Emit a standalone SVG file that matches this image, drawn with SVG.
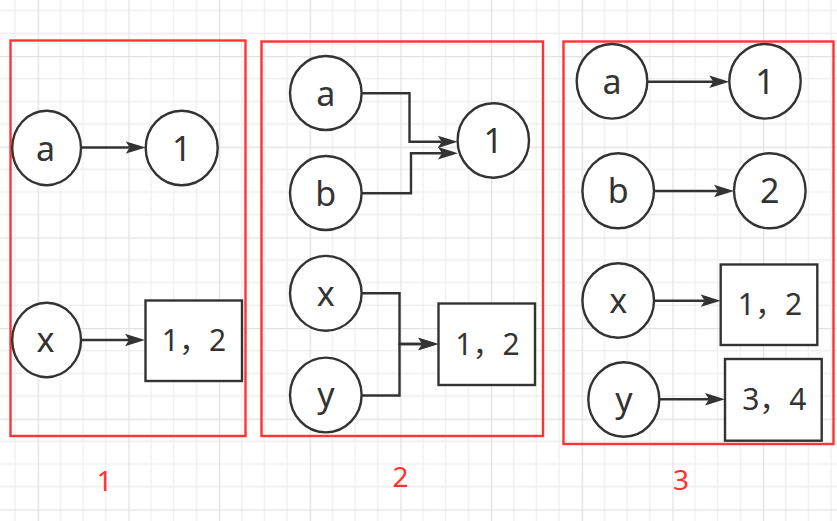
<svg xmlns="http://www.w3.org/2000/svg" width="837" height="521" viewBox="0 0 837 521">
<style>
.node{fill:#ffffff;stroke:#333333;stroke-width:2.4}
.lbl{font-family:"Noto Sans","Noto Sans CJK SC",sans-serif;fill:#333333;text-anchor:middle}
.c{font-size:34px}
.r{font-size:30px}
.edge{fill:none;stroke:#333333;stroke-width:2.4;marker-end:url(#arr)}
.panel{fill:none;stroke:#ff3333;stroke-width:2.4}
.pl{font-family:"Noto Sans",sans-serif;font-size:28px;fill:#ff3333;text-anchor:middle}
</style>
<defs>
<pattern id="grid" patternUnits="userSpaceOnUse" x="37.667" y="56" width="90.667" height="90.667">
<path d="M22.667,0V90.667M45.333,0V90.667M68,0V90.667M0,22.667H90.667M0,45.333H90.667M0,68H90.667" stroke="#efefef" stroke-width="1.3" fill="none"/>
<path d="M0.6,0V90.667M0,0.6H90.667" stroke="#e2e2e2" stroke-width="1.3" fill="none"/>
</pattern>
<marker id="arr" markerUnits="userSpaceOnUse" markerWidth="22" markerHeight="16" refX="4" refY="7" orient="auto">
<path d="M0,0.8L20,7L0,13.2L4,7Z" fill="#333333" stroke="none"/>
</marker>
</defs>
<rect width="837" height="521" fill="#ffffff"/>
<rect width="837" height="521" fill="url(#grid)"/>

<g id="panels">
<rect class="panel" x="10.5" y="40.5" width="235" height="395.5"/>
<rect class="panel" x="261.5" y="41.5" width="281.5" height="394.5"/>
<rect class="panel" x="563.5" y="41.5" width="270" height="402.5"/>
<text class="pl" x="104.5" y="491">1</text>
<text class="pl" x="400.5" y="487">2</text>
<text class="pl" x="681" y="490">3</text>
</g>

<g id="connectors">
<path class="edge" d="M81,147.5H129.7"/>
<path class="edge" d="M81,340H129"/>
<path class="edge" d="M361.7,93.3H409.5V141.8H441.7"/>
<path class="edge" d="M361.7,193.3H411V153.3H442"/>
<path class="edge" d="M361.7,293.3H399.5V344H422.3"/>
<path class="edge" d="M361.7,395.5H399.5V344H422.3"/>
<path class="edge" d="M647.3,81.7H713.3"/>
<path class="edge" d="M654,191H718"/>
<path class="edge" d="M654,300.7H704.7"/>
<path class="edge" d="M659.3,399.3H709"/>
</g>

<g id="p1-a"><ellipse class="node" cx="46.6" cy="148" rx="34.4" ry="37.2"/><text class="lbl c" x="45.5" y="160.5">a</text></g>
<g id="p1-1"><ellipse class="node" cx="181.7" cy="148" rx="36" ry="37.2"/><text class="lbl c" x="181.7" y="160.5">1</text></g>
<g id="p1-x"><ellipse class="node" cx="46.6" cy="340" rx="34.4" ry="37.2"/><text class="lbl c" x="45.5" y="352">x</text></g>
<g id="p1-12"><rect class="node" x="145.5" y="300.5" width="96.5" height="80.5"/><text class="lbl r" x="194" y="351">1，2</text></g>

<g id="p2-a"><ellipse class="node" cx="325.8" cy="93" rx="35.8" ry="37"/><text class="lbl c" x="325.8" y="105.5">a</text></g>
<g id="p2-b"><ellipse class="node" cx="325.8" cy="193" rx="35.8" ry="37"/><text class="lbl c" x="325.8" y="205.5">b</text></g>
<g id="p2-1"><ellipse class="node" cx="493.3" cy="140.5" rx="35.7" ry="37.2"/><text class="lbl c" x="493.3" y="153">1</text></g>
<g id="p2-x"><ellipse class="node" cx="325.8" cy="293.3" rx="35.8" ry="37.4"/><text class="lbl c" x="325.8" y="305.5">x</text></g>
<g id="p2-y"><ellipse class="node" cx="325.8" cy="395" rx="35.8" ry="37.4"/><text class="lbl c" x="325.8" y="407">y</text></g>
<g id="p2-12"><rect class="node" x="438.5" y="303.5" width="96.5" height="81.5"/><text class="lbl r" x="487.5" y="354.5">1，2</text></g>

<g id="p3-a"><ellipse class="node" cx="612" cy="81.3" rx="35.3" ry="37.3"/><text class="lbl c" x="612" y="94">a</text></g>
<g id="p3-1"><ellipse class="node" cx="765" cy="81.3" rx="35.7" ry="37.3"/><text class="lbl c" x="765" y="94">1</text></g>
<g id="p3-b"><ellipse class="node" cx="618.2" cy="190.8" rx="35.8" ry="37.5"/><text class="lbl c" x="618.2" y="203.3">b</text></g>
<g id="p3-2"><ellipse class="node" cx="769.8" cy="190.8" rx="35.8" ry="37.5"/><text class="lbl c" x="769.8" y="203.3">2</text></g>
<g id="p3-x"><ellipse class="node" cx="618.2" cy="300.5" rx="35.8" ry="37.2"/><text class="lbl c" x="618.2" y="312.5">x</text></g>
<g id="p3-12"><rect class="node" x="720.7" y="264.5" width="96.6" height="80.5"/><text class="lbl r" x="770" y="315">1，2</text></g>
<g id="p3-y"><ellipse class="node" cx="623.8" cy="399.5" rx="35.5" ry="37.2"/><text class="lbl c" x="623.8" y="411.5">y</text></g>
<g id="p3-34"><rect class="node" x="725" y="359" width="96.7" height="81.7"/><text class="lbl r" x="774.3" y="410">3，4</text></g>
</svg>
